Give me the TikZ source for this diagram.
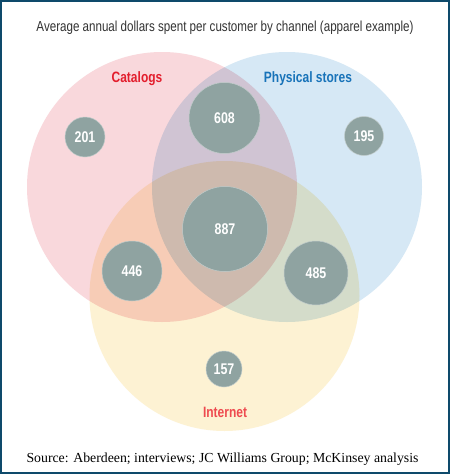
\documentclass[tikz,border=0pt]{standalone}
\usepackage{fontspec}
\setmainfont{Liberation Serif}
\newfontfamily\condfont[FakeStretch=0.8]{Liberation Sans}
\usetikzlibrary{positioning}

\definecolor{framecol}{HTML}{0E4A6B}
\definecolor{catfill}{HTML}{F9D8DC}
\definecolor{storefill}{HTML}{D6E8F5}
\definecolor{netfill}{HTML}{FDF2D3}
\definecolor{bubblegray}{HTML}{8FA3A1}
\definecolor{catred}{HTML}{E31E2D}
\definecolor{storeblue}{HTML}{1873B9}
\definecolor{netred}{HTML}{EE4A4F}
\definecolor{titlegray}{HTML}{333333}

\tikzset{
  bubble/.style={circle, fill=bubblegray, draw=white!45!bubblegray, line width=0.5pt,
    text=white, inner sep=0pt, font=\condfont\bfseries\fontsize{15.5}{15.5}\selectfont},
  setlabel/.style={font=\condfont\bfseries\fontsize{15}{15}\selectfont}
}

\begin{document}
\begin{tikzpicture}[x=1pt, y=-1pt]
			\useasboundingbox (0,0) rectangle (450,474);
			\fill[white] (0,0) rectangle (450,474);

			% Kreise der drei Kanaele
			\begin{scope}[blend group=multiply]
				\fill[catfill] (162,187) circle (135);
				\fill[storefill] (287,187) circle (135);
				\fill[netfill] (224.5,296) circle (135);
			\end{scope}

			% Ueberschrift
			\node[font=\condfont\fontsize{14.5}{15}\selectfont, text=titlegray] (title) at (225,28)
				{Average annual dollars spent per customer by channel (apparel example)};

			% Namen der Kanaele
			\node[setlabel, text=catred] (catalogs) at (137,79) {Catalogs};
			\node[setlabel, text=storeblue] (stores) at (308,79) {Physical stores};
			\node[setlabel, text=netred] (internet) at (225,412) {Internet};

			% Werte
			\node[bubble, minimum size=40pt] (b201) at (85,137) {201};
			\node[bubble, minimum size=71pt] (b608) at (224.5,118) {608};
			\node[bubble, minimum size=39pt] (b195) at (364,136) {195};
			\node[bubble, minimum size=85pt] (b887) at (225,229) {887};
			\node[bubble, minimum size=60pt] (b446) at (132,271) {446};
			\node[bubble, minimum size=64pt] (b485) at (316,273) {485};
			\node[bubble, minimum size=36pt] (b157) at (224,369) {157};

			% Quelle
			\node[font=\fontsize{13.8}{15}\selectfont] (source) at (222.5,459)
				{Source: Aberdeen; interviews; JC Williams Group; McKinsey analysis};

			% Rahmen
			\draw[framecol, line width=2pt] (1,1) rectangle (449,473);
\end{tikzpicture}
\end{document}
